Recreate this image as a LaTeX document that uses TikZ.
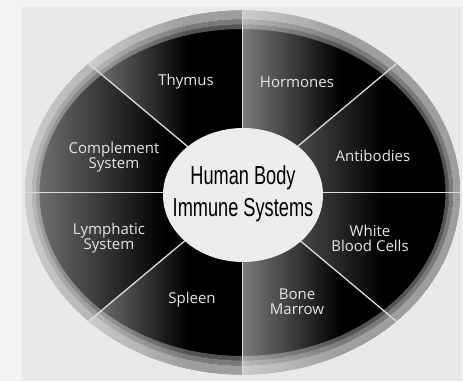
\documentclass[tikz,border=0pt]{standalone}
\usepackage{fontspec}
\newfontfamily\labelfont{Open Sans}
\newfontfamily\hubfont[FakeStretch=0.7]{Liberation Sans}
\definecolor{pagegray}{HTML}{F3F3F3}
\definecolor{panelgray}{HTML}{E9E9E9}
\definecolor{segleft}{HTML}{7A7A7A}
\definecolor{divline}{HTML}{DCDCDC}
\definecolor{hubfill}{HTML}{EDEDED}
\definecolor{labeltext}{HTML}{E6E6E6}
\pgfdeclarehorizontalshading{sectorshade}{100bp}{color(0bp)=(segleft); color(25bp)=(segleft); color(57bp)=(black); color(100bp)=(black)}
\tikzset{
  sector/.style={shading=sectorshade},
  divider/.style={divline, line width=1.3pt},
  seglabel/.style={text=labeltext, font=\labelfont\fontsize{15}{15}\selectfont, align=center, inner sep=0pt},
}
\begin{document}
\begin{tikzpicture}[x=1pt, y=1pt]
% Page and panel background
\fill[pagegray] (-242.5,-188.5) rectangle (220.5,192.5);
\useasboundingbox (-242.5,-188.5) rectangle (220.5,192.5);
\fill[panelgray] (-220.5,-188.5) rectangle (219.5,185.5);
% Centre and rim points
\coordinate (ctr) at (0,0);
\coordinate (rim0) at ({217.5*cos(0)},{182*sin(0)});
\coordinate (rim45) at ({217.5*cos(45)},{182*sin(45)});
\coordinate (rim90) at ({217.5*cos(90)},{182*sin(90)});
\coordinate (rim135) at ({217.5*cos(135)},{182*sin(135)});
\coordinate (rim180) at ({217.5*cos(180)},{182*sin(180)});
\coordinate (rim225) at ({217.5*cos(225)},{182*sin(225)});
\coordinate (rim270) at ({217.5*cos(270)},{182*sin(270)});
\coordinate (rim315) at ({217.5*cos(315)},{182*sin(315)});
% Eight shaded sectors
\shade[sector] (ctr) -- (rim0) arc[start angle=0, end angle=45, x radius=217.5, y radius=182] -- cycle;
\shade[sector] (ctr) -- (rim45) arc[start angle=45, end angle=90, x radius=217.5, y radius=182] -- cycle;
\shade[sector] (ctr) -- (rim90) arc[start angle=90, end angle=135, x radius=217.5, y radius=182] -- cycle;
\shade[sector] (ctr) -- (rim135) arc[start angle=135, end angle=180, x radius=217.5, y radius=182] -- cycle;
\shade[sector] (ctr) -- (rim180) arc[start angle=180, end angle=225, x radius=217.5, y radius=182] -- cycle;
\shade[sector] (ctr) -- (rim225) arc[start angle=225, end angle=270, x radius=217.5, y radius=182] -- cycle;
\shade[sector] (ctr) -- (rim270) arc[start angle=270, end angle=315, x radius=217.5, y radius=182] -- cycle;
\shade[sector] (ctr) -- (rim315) arc[start angle=315, end angle=360, x radius=217.5, y radius=182] -- cycle;
% Lighter bands of the outer ring
\fill[white, opacity=0.62, even odd rule] (ctr) ellipse[x radius=217.5, y radius=182] (ctr) ellipse[x radius=210.5, y radius=173];
\fill[white, opacity=0.48, even odd rule] (ctr) ellipse[x radius=210.5, y radius=173] (ctr) ellipse[x radius=206.5, y radius=168];
\fill[white, opacity=0.33, even odd rule] (ctr) ellipse[x radius=206.5, y radius=168] (ctr) ellipse[x radius=203, y radius=163.5];
% Divider lines
\draw[divider] (rim0) -- (rim180);
\draw[divider] (rim90) -- (rim270);
\draw[divider] (rim45) -- (rim225);
\draw[divider] (rim135) -- (rim315);
% Central ellipse and its title
\fill[hubfill] (0.5,-2.5) ellipse[x radius=80, y radius=67];
\node[align=center, inner sep=0pt, font=\hubfont\fontsize{26}{32}\selectfont] (hub) at (0.5,-1.5) {Human Body\\Immune Systems};
% Sector labels
\node[seglabel] (thymus) at (-56.5,110.5) {Thymus};
\node[seglabel] (hormones) at (54.5,110.5) {Hormones};
\node[seglabel] (complement) at (-128.5,35) {Complement\\System};
\node[seglabel] (antibodies) at (130.5,36.5) {Antibodies};
\node[seglabel] (lymphatic) at (-133.5,-45.5) {Lymphatic\\System};
\node[seglabel] (whitecells) at (127.5,-45.5) {White\\Blood Cells};
\node[seglabel] (spleen) at (-50.5,-107.5) {Spleen};
\node[seglabel] (marrow) at (54.5,-109.5) {Bone\\Marrow};
\end{tikzpicture}
\end{document}
